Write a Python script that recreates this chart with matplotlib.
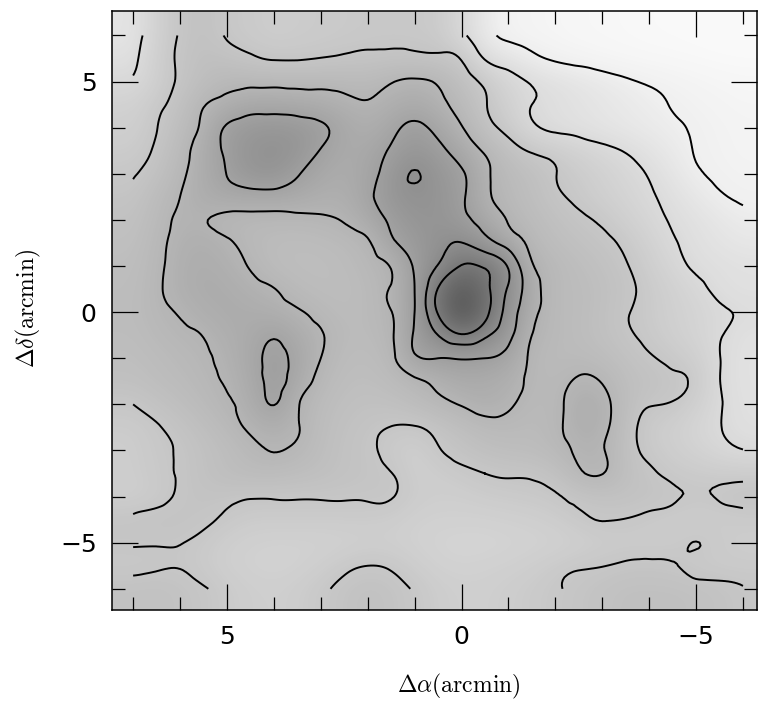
import numpy as np
import matplotlib.pyplot as plt
import matplotlib.tri as mtri
from matplotlib.colors import LinearSegmentedColormap
from matplotlib.ticker import MultipleLocator

plt.rcParams['mathtext.fontset'] = 'cm'

# map grid, 0.5 arcmin spacing
ra_offset = [7.0, 6.5, 6.0, 5.5, 5.0, 4.5, 4.0, 3.5, 3.0, 2.5, 2.0, 1.5, 1.0, 0.5,
             0.0, -0.5, -1.0, -1.5, -2.0, -2.5, -3.0, -3.5, -4.0, -4.5, -5.0, -5.5, -6.0]
dec_offset = [6.0, 5.5, 5.0, 4.5, 4.0, 3.5, 3.0, 2.5, 2.0, 1.5, 1.0, 0.5, 0.0,
              -0.5, -1.0, -1.5, -2.0, -2.5, -3.0, -3.5, -4.0, -4.5, -5.0, -5.5, -6.0]

# surface brightness, one row per dec_offset, columns follow ra_offset
brightness = [
    [1.6, 2.5, 3.05, 3.3, 2.95, 2.8, 2.7, 2.75, 2.8, 2.85, 2.9, 2.92, 2.9, 2.8, 2.2, 1.33, 0.8, 0.65, 0.55, 0.45, 0.4, 0.35, 0.3, 0.28, 0.25, 0.22, 0.2],
    [1.8, 2.6, 3.1, 3.4, 3.3, 3.1, 2.95, 2.95, 3.02, 3.1, 3.15, 3.2, 3.2, 3.15, 2.95, 1.95, 1.59, 1.22, 0.9, 0.75, 0.62, 0.52, 0.45, 0.4, 0.35, 0.3, 0.28],
    [2.1, 2.6, 3.1, 3.5, 3.8, 3.8, 3.8, 3.75, 3.8, 3.75, 3.7, 3.95, 4.1, 3.9, 3.4, 2.85, 2.3, 1.93, 1.72, 1.52, 1.31, 1.1, 0.92, 0.78, 0.65, 0.55, 0.48],
    [2.5, 2.85, 3.3, 3.95, 4.3, 4.6, 4.6, 4.55, 4.4, 4.2, 4.05, 4.3, 4.5, 4.2, 3.7, 3.05, 2.5, 2.0, 1.83, 1.66, 1.49, 1.32, 1.14, 0.97, 0.82, 0.7, 0.6],
    [2.6, 2.98, 3.5, 4.2, 5.1, 5.4, 5.5, 5.4, 5.15, 4.6, 4.3, 4.7, 5.2, 4.7, 4.05, 3.3, 2.75, 2.15, 1.85, 1.74, 1.58, 1.42, 1.26, 1.1, 0.93, 0.8, 0.7],
    [2.75, 3.1, 3.7, 4.4, 5.15, 5.6, 5.75, 5.55, 4.95, 4.5, 4.6, 5.1, 5.5, 5.2, 4.6, 3.9, 3.35, 2.92, 2.71, 2.45, 2.2, 1.95, 1.63, 1.3, 0.96, 0.82, 0.72],
    [2.95, 3.3, 3.85, 4.4, 5.02, 5.5, 5.6, 5.08, 4.6, 4.4, 4.75, 5.4, 6.05, 5.5, 5.1, 4.2, 3.65, 3.4, 3.02, 2.75, 2.49, 2.23, 1.95, 1.52, 1.1, 0.88, 0.8],
    [3.15, 3.6, 4.0, 4.4, 4.55, 4.6, 4.6, 4.5, 4.3, 4.3, 4.8, 5.5, 5.75, 5.6, 5.15, 4.2, 3.75, 3.45, 3.12, 2.86, 2.6, 2.35, 2.09, 1.78, 1.43, 1.09, 0.9],
    [3.3, 3.7, 4.1, 4.05, 3.85, 3.8, 3.8, 3.82, 3.9, 4.05, 4.5, 5.15, 5.55, 5.6, 5.25, 4.6, 3.95, 3.6, 3.35, 3.12, 2.9, 2.57, 2.25, 1.93, 1.7, 1.45, 1.2],
    [3.4, 3.8, 4.2, 4.3, 4.1, 3.75, 3.6, 3.55, 3.6, 3.7, 3.9, 4.8, 5.3, 5.7, 6.02, 5.4, 4.6, 3.8, 3.5, 3.3, 3.15, 2.87, 2.47, 2.07, 1.8, 1.6, 1.45],
    [3.5, 3.85, 4.25, 4.4, 4.25, 3.95, 3.6, 3.5, 3.5, 3.6, 3.8, 4.05, 5.1, 6.05, 7.05, 6.9, 5.9, 4.1, 3.75, 3.5, 3.3, 3.05, 2.65, 2.26, 1.9, 1.8, 1.72],
    [3.55, 3.9, 4.25, 4.45, 4.4, 4.2, 4.02, 3.7, 3.55, 3.55, 3.7, 4.05, 5.0, 7.05, 8.2, 7.3, 5.9, 4.4, 3.7, 3.6, 3.4, 3.15, 2.8, 2.5, 2.2, 1.85, 1.75],
    [3.6, 3.85, 4.05, 4.3, 4.45, 4.4, 4.3, 4.08, 3.8, 3.6, 3.7, 3.98, 5.0, 7.1, 8.5, 7.35, 5.6, 4.25, 3.7, 3.6, 3.35, 3.05, 2.8, 2.55, 2.35, 2.1, 1.95],
    [3.55, 3.75, 3.9, 4.02, 4.3, 4.5, 4.9, 4.45, 4.05, 3.7, 3.65, 3.9, 5.1, 6.0, 6.9, 6.2, 5.25, 4.0, 3.75, 3.55, 3.35, 3.1, 2.85, 2.6, 2.35, 2.05, 1.75],
    [3.45, 3.6, 3.75, 3.9, 4.15, 4.6, 5.2, 4.7, 4.0, 3.6, 3.55, 3.8, 4.85, 5.0, 5.05, 5.0, 4.7, 3.85, 3.65, 3.7, 3.55, 3.3, 3.08, 2.85, 2.6, 2.02, 1.7],
    [3.35, 3.5, 3.65, 3.82, 4.05, 4.5, 5.2, 4.55, 3.8, 3.5, 3.45, 3.6, 3.85, 4.2, 4.5, 4.45, 4.25, 3.85, 3.75, 4.1, 3.95, 3.45, 3.3, 3.1, 2.85, 2.02, 1.7],
    [3.0, 3.25, 3.45, 3.7, 3.95, 4.35, 5.02, 4.1, 3.6, 3.4, 3.3, 3.35, 3.55, 3.8, 4.05, 4.3, 4.1, 3.75, 3.8, 4.35, 4.25, 3.5, 3.05, 2.95, 2.55, 2.05, 1.75],
    [2.75, 2.95, 3.2, 3.45, 3.75, 4.1, 4.3, 4.05, 3.55, 3.3, 3.15, 2.98, 2.95, 3.2, 3.45, 3.7, 3.75, 3.65, 3.85, 4.3, 4.2, 3.4, 2.75, 2.6, 2.3, 2.02, 1.8],
    [2.7, 2.9, 3.05, 3.3, 3.5, 3.8, 4.02, 3.85, 3.5, 3.25, 3.1, 2.8, 2.6, 2.95, 3.2, 3.4, 3.5, 3.55, 3.75, 4.1, 4.05, 3.35, 2.85, 2.65, 2.45, 2.2, 2.02],
    [2.7, 2.85, 3.05, 3.3, 3.5, 3.6, 3.6, 3.5, 3.4, 3.25, 3.15, 3.02, 2.65, 2.7, 2.85, 3.0, 3.08, 3.1, 3.3, 3.85, 4.02, 3.4, 3.1, 2.85, 2.8, 2.75, 2.75],
    [2.65, 2.8, 3.08, 3.2, 3.15, 3.05, 3.05, 3.05, 3.05, 3.05, 3.05, 3.03, 2.75, 2.65, 2.65, 2.75, 2.8, 2.85, 2.95, 3.15, 3.25, 3.25, 3.2, 3.08, 2.95, 3.05, 3.15],
    [3.1, 3.2, 3.2, 3.1, 2.9, 2.75, 2.75, 2.75, 2.75, 2.75, 2.75, 2.7, 2.55, 2.5, 2.5, 2.5, 2.55, 2.6, 2.7, 2.9, 3.02, 2.98, 2.85, 2.75, 2.7, 2.75, 2.8],
    [3.06, 3.05, 3.02, 2.85, 2.65, 2.55, 2.5, 2.5, 2.5, 2.55, 2.6, 2.6, 2.5, 2.4, 2.35, 2.35, 2.4, 2.45, 2.5, 2.6, 2.7, 2.75, 2.75, 2.8, 3.01, 2.8, 2.7],
    [2.9, 2.95, 2.98, 2.8, 2.6, 2.5, 2.45, 2.5, 2.65, 2.85, 3.0, 2.92, 2.7, 2.5, 2.45, 2.5, 2.55, 2.65, 2.8, 2.92, 2.98, 3.1, 3.12, 3.05, 2.85, 2.8, 2.8],
    [3.25, 3.3, 3.2, 3.05, 2.8, 2.65, 2.6, 2.7, 2.9, 3.15, 3.3, 3.2, 2.95, 2.7, 2.6, 2.6, 2.7, 2.8, 2.95, 3.1, 3.25, 3.35, 3.35, 3.35, 3.3, 3.2, 3.05],
]

contour_levels = [1, 2, 3, 4, 5, 6, 7]

# grey ramp of the printed map: light sky -> dark core
grey_value = [0.0, 1.0, 2.0, 3.0, 4.0, 5.0, 6.0, 7.0, 8.5]
grey_level = [0.99, 0.94, 0.86, 0.78, 0.71, 0.63, 0.55, 0.46, 0.33]
vmax = grey_value[-1]
halftone = LinearSegmentedColormap.from_list(
    'halftone', [(v / vmax, (g, g, g)) for v, g in zip(grey_value, grey_level)])

Z = np.array(brightness)
X, Y = np.meshgrid(ra_offset, dec_offset)

fig = plt.figure(figsize=(7.62, 7.17), dpi=100)
ax = fig.add_axes([0.147, 0.1492, 0.8465, 0.8354])

# shaded map, padded by one cell so it fills the frame
Zpad = np.pad(Z, 1, mode='edge')
step = 0.5
ax.imshow(Zpad, cmap=halftone, vmin=0, vmax=vmax, interpolation='bicubic',
          origin='upper', aspect='auto',
          extent=[ra_offset[0] + 1.5 * step, ra_offset[-1] - 1.5 * step,
                  dec_offset[-1] - 1.5 * step, dec_offset[0] + 1.5 * step])

# smooth contours through a refined cubic interpolation of the grid
triang = mtri.Triangulation(X.ravel(), Y.ravel())
refiner = mtri.UniformTriRefiner(triang)
tri_fine, z_fine = refiner.refine_field(Z.ravel(), subdiv=3)
ax.tricontour(tri_fine, z_fine, levels=contour_levels, colors='black',
              linewidths=1.4)

ax.set_xlim(7.45, -6.3)
ax.set_ylim(-6.46, 6.53)

for axis in (ax.xaxis, ax.yaxis):
    axis.set_major_locator(MultipleLocator(5))
    axis.set_minor_locator(MultipleLocator(1))
ax.tick_params(which='both', direction='in', top=True, right=True,
               width=0.9, colors='black')
ax.tick_params(which='major', length=19, pad=11, labelsize=18)
ax.tick_params(which='minor', length=9.5)
for lab in ax.get_xticklabels() + ax.get_yticklabels():
    lab.set_fontfamily('DejaVu Sans')
for sp in ax.spines.values():
    sp.set_linewidth(1.1)

fig.text(0.602, 0.043, r'$\Delta\alpha(\mathrm{arcmin})$', ha='center',
         va='center', fontsize=17)
fig.text(0.037, 0.570, r'$\Delta\delta(\mathrm{arcmin})$', ha='center',
         va='center', fontsize=17, rotation=90)

fig.savefig('out.png', dpi=100)
